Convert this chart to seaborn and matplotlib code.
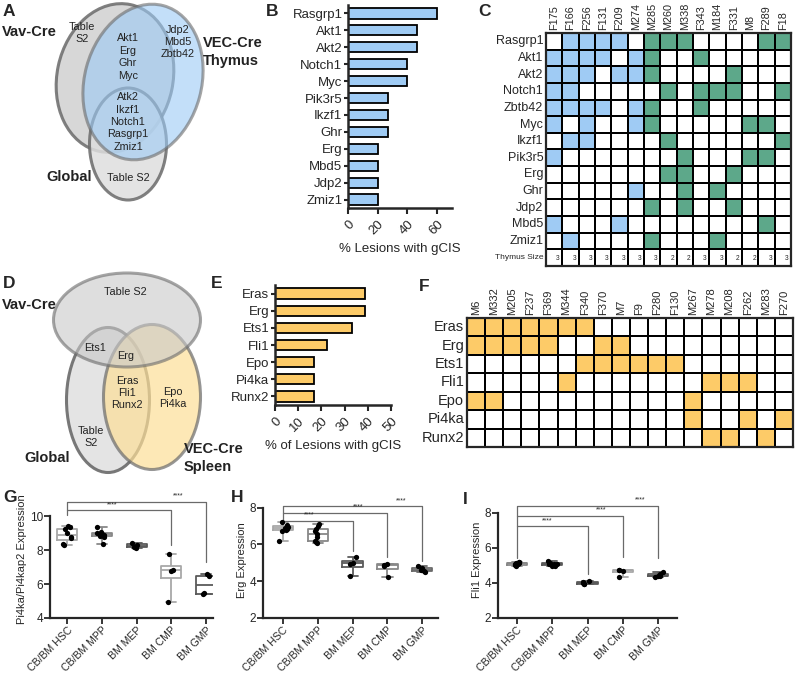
import numpy as np
import pandas as pd
import matplotlib
matplotlib.use("Agg")
import matplotlib.pyplot as plt
import seaborn as sns
from matplotlib.patches import Ellipse
from matplotlib.colors import ListedColormap

sns.set_theme(style="ticks", context="paper")
plt.rcParams['font.family'] = ['Liberation Sans', 'DejaVu Sans']

BLUE = "#9fcbf4"
GREEN = "#5da88a"
YELLOW = "#fdcb68"

# ---- data: thymus (B, C) ----
thymus_bar_genes = ["Rasgrp1", "Akt1", "Akt2", "Notch1", "Myc", "Pik3r5", "Ikzf1",
                    "Ghr", "Erg", "Mbd5", "Jdp2", "Zmiz1"]
thymus_bar_pct = [60, 46.7, 46.7, 40, 40, 26.7, 26.7, 26.7, 20, 20, 20, 20]

thymus_samples = ["F175", "F166", "F256", "F131", "F209", "M274", "M285", "M260",
                  "M338", "F343", "M184", "F331", "M8", "F289", "F18"]
thymus_rows = ["Rasgrp1", "Akt1", "Akt2", "Notch1", "Zbtb42", "Myc", "Ikzf1",
               "Pik3r5", "Erg", "Ghr", "Jdp2", "Mbd5", "Zmiz1"]
thymus_hits = [
    [1, 2, 3, 4, 6, 7, 8, 13, 14],
    [0, 1, 2, 3, 5, 6, 9],
    [0, 1, 2, 4, 5, 6, 11],
    [0, 1, 7, 9, 10, 11, 14],
    [0, 1, 2, 3, 5, 6, 9],
    [0, 2, 5, 6, 12, 13],
    [1, 2, 7, 14],
    [0, 8, 12, 13],
    [7, 8, 11],
    [5, 8, 10],
    [6, 8, 11],
    [0, 4, 13],
    [1, 6, 10],
]
n_blue_samples = 6
thymus_size = [3, 3, 3, 3, 3, 3, 3, 2, 2, 3, 3, 2, 2, 3, 3]

# ---- data: spleen (E, F) ----
spleen_bar_genes = ["Eras", "Erg", "Ets1", "Fli1", "Epo", "Pi4ka", "Runx2"]
spleen_bar_pct = [38.9, 38.9, 33.3, 22.2, 16.7, 16.7, 16.7]

spleen_samples = ["M6", "M332", "M205", "F237", "F369", "M344", "F340", "F370", "M7",
                  "F9", "F280", "F130", "M267", "M278", "M208", "F262", "M283", "F270"]
spleen_rows = ["Eras", "Erg", "Ets1", "Fli1", "Epo", "Pi4ka", "Runx2"]
spleen_hits = [
    [0, 1, 2, 3, 4, 5, 6],
    [0, 1, 2, 3, 4, 7, 8],
    [6, 7, 8, 9, 10, 11],
    [5, 13, 14, 15],
    [0, 1, 12],
    [12, 15, 17],
    [13, 14, 16],
]

# ---- data: expression (G, H, I) ----
cell_types = ["CB/BM HSC", "CB/BM MPP", "BM MEP", "BM CMP", "BM GMP"]
pi4ka_expr = [
    [9.4, 9.35, 9.25, 9.0, 8.8, 8.7, 8.35, 8.3],
    [9.35, 9.1, 9.0, 8.95, 8.9, 8.85, 8.8, 8.35],
    [8.45, 8.3, 8.2, 8.1],
    [7.8, 6.85, 6.8, 4.95],
    [6.6, 6.45, 5.45, 5.4],
]
erg_expr = [
    [7.2, 7.05, 6.95, 6.9, 6.85, 6.8, 6.7, 6.2],
    [7.1, 7.0, 6.85, 6.7, 6.55, 6.4, 6.2, 6.15, 6.1],
    [5.3, 5.0, 4.95, 4.3],
    [4.95, 4.9, 4.85, 4.2],
    [4.8, 4.7, 4.6, 4.55, 4.5],
]
fli1_expr = [
    [5.2, 5.18, 5.15, 5.12, 5.1, 5.05, 5.0, 4.98],
    [5.22, 5.12, 5.1, 5.05, 5.05, 5.0, 4.98, 4.95],
    [4.1, 4.05, 4.0, 3.95, 3.92],
    [4.75, 4.72, 4.7, 4.35],
    [4.6, 4.5, 4.4, 4.38, 4.35],
]
# brackets: (from, to, line y, left end y, right end y, text x)
pi4ka_brackets = [(0, 3, 10.35, 10.1, 8.3, 1.3), (0, 4, 10.85, 10.35, 7.3, 3.2)]
erg_brackets = [(0, 2, 7.27, 7.27, 5.66, 0.75), (0, 3, 7.71, 7.27, 5.3, 2.15), (0, 4, 8.07, 7.71, 5.12, 3.4)]
fli1_brackets = [(0, 2, 7.21, 5.4, 4.5, 0.85), (0, 3, 7.81, 7.21, 5.47, 2.4), (0, 4, 8.37, 7.81, 5.4, 3.5)]

fig = plt.figure(figsize=(8, 6.8), dpi=100)


def px_axes(x0, y0, x1, y1):
    return fig.add_axes([x0 / 800, 1 - y1 / 680, (x1 - x0) / 800, (y1 - y0) / 680])


def letter(x, y, s):
    fig.text(x / 800, 1 - y / 680, s, fontsize=12.5, fontweight="bold", va="top", ha="left")


# ---- Venn diagrams ----
def venn(ax, shapes, texts):
    ax.set_xlim(0, 240)
    ax.set_ylim(210, 0)
    ax.axis("off")
    for cx, cy, w, h, ang, fc, a in shapes:
        ax.add_patch(Ellipse((cx, cy), w, h, angle=ang, facecolor=fc, alpha=a,
                             edgecolor="#6a6a6a", lw=2.2))
    for x, y, s, bold, ha in texts:
        ax.text(x, y, s, ha=ha, va="center", fontsize=10.5 if bold else 7.8,
                fontweight="bold" if bold else "normal", linespacing=1.3,
                color="#222222", clip_on=False, zorder=5)


axA = px_axes(0, 0, 240, 210)
venn(axA,
     [(115, 78, 116, 150, 12, "#d0d0d0", 0.85),
      (128, 144, 77, 112, 0, "#dedede", 0.85),
      (143, 82, 117, 158, 15, "#9ccbf6", 0.6)],
     [(82, 33, "Table\nS2", False, "center"),
      (128, 57, "Akt1\nErg\nGhr\nMyc", False, "center"),
      (128, 122, "Atk2\nIkzf1\nNotch1\nRasgrp1\nZmiz1", False, "center"),
      (178, 42, "Jdp2\nMbd5\nZbtb42", False, "center"),
      (128, 178, "Table S2", False, "center"),
      (2, 32, "Vav-Cre", True, "left"),
      (203, 52, "VEC-Cre\nThymus", True, "left"),
      (46, 177, "Global", True, "left")])

axD = px_axes(0, 270, 240, 480)
venn(axD,
     [(108, 130, 83, 145, 0, "#e2e2e2", 0.9),
      (152, 127, 97, 145, 0, "#fddf98", 0.7),
      (127, 50, 147, 94, 0, "#c9c9c9", 0.6)],
     [(125, 22, "Table S2", False, "center"),
      (95, 78, "Ets1", False, "center"),
      (126, 86, "Erg", False, "center"),
      (127, 123, "Eras\nFli1\nRunx2", False, "center"),
      (173, 128, "Epo\nPi4ka", False, "center"),
      (91, 167, "Table\nS2", False, "center"),
      (2, 35, "Vav-Cre", True, "left"),
      (24, 188, "Global", True, "left"),
      (184, 188, "VEC-Cre\nSpleen", True, "left")])


# ---- bar charts ----
def bar_panel(ax, genes, pct, color, xmax, xticks, xlabel, fs):
    sns.barplot(x=pct, y=genes, orient="h", color=color, saturation=1,
                edgecolor="black", linewidth=1.3, width=0.6, ax=ax)
    ax.set_xlim(0, xmax)
    ax.set_xticks(xticks)
    ax.set_xticklabels([str(t) for t in xticks], rotation=45, ha="right",
                       rotation_mode="anchor", fontsize=fs)
    ax.tick_params(axis="y", labelsize=fs, length=3, width=1.5, pad=1)
    ax.tick_params(axis="x", length=4, width=1.5)
    ax.set_xlabel(xlabel, fontsize=fs)
    ax.set_ylabel("")
    sns.despine(ax=ax)
    for sp in ["left", "bottom"]:
        ax.spines[sp].set_linewidth(1.8)


axB = px_axes(348, 5, 452, 208)
bar_panel(axB, thymus_bar_genes, thymus_bar_pct, BLUE, 70, [0, 20, 40, 60],
          "% Lesions with gCIS", 9.5)

axE = px_axes(275, 285, 391, 405)
bar_panel(axE, spleen_bar_genes, spleen_bar_pct, YELLOW, 50, [0, 10, 20, 30, 40, 50],
          "% of Lesions with gCIS", 9.5)


# ---- lesion grids ----
def grid_panel(ax, rows, samples, hits, code_fn, colors, row_fs, col_fs, extra_row=None):
    mat = np.zeros((len(rows), len(samples)))
    for i, cols in enumerate(hits):
        for j in cols:
            mat[i, j] = code_fn(j)
    labels = list(rows)
    if extra_row is not None:
        mat = np.vstack([mat, np.zeros(len(samples))])
        labels.append(extra_row[0])
    sns.heatmap(mat, cmap=ListedColormap(colors), vmin=0, vmax=len(colors) - 1,
                cbar=False, linewidths=1.2, linecolor="black",
                xticklabels=samples, yticklabels=labels, ax=ax)
    ax.xaxis.tick_top()
    ax.tick_params(length=0, pad=2)
    ax.set_xticklabels(samples, rotation=90, fontsize=col_fs)
    ax.set_yticklabels(labels, rotation=0, fontsize=row_fs, ha="right")
    for sp in ax.spines.values():
        sp.set_visible(True)
        sp.set_linewidth(1.6)
    if extra_row is not None:
        ax.get_yticklabels()[-1].set_fontsize(6)
        for j, s in enumerate(extra_row[1]):
            ax.text(j + 0.85, len(rows) + 0.55, str(s), ha="right", va="center", fontsize=4.8)


axC = px_axes(546, 33, 791, 266)
grid_panel(axC, thymus_rows, thymus_samples, thymus_hits,
           lambda j: 1 if j < n_blue_samples else 2, ["white", BLUE, GREEN],
           9, 7.8, extra_row=("Thymus Size", thymus_size))

axF = px_axes(467, 318, 793, 447)
grid_panel(axF, spleen_rows, spleen_samples, spleen_hits,
           lambda j: 1, ["white", YELLOW], 10.5, 8)


# ---- expression box plots ----
np.random.seed(3)


def expr_panel(ax, vals, colors, ylo, yhi, ytop, yticks, xlim, ylabel, brackets):
    df = pd.DataFrame({"cell": np.repeat(cell_types, [len(v) for v in vals]),
                       "expr": np.concatenate(vals)})
    sns.boxplot(data=df, x="cell", y="expr", hue="cell", order=cell_types,
                hue_order=cell_types, palette=colors, fill=False, whis=(0, 100),
                width=0.58, linewidth=1.3, legend=False, ax=ax)
    sns.stripplot(data=df, x="cell", y="expr", order=cell_types, color="black",
                  size=3.8, jitter=0.15, ax=ax)
    for i, j, yl, ya, yb, tx in brackets:
        ax.plot([i, i, j, j], [ya, yl, yl, yb], color="#6a6a6a", lw=0.9)
        ax.text(tx, yl + 0.02 * (ytop - ylo), "****", ha="center", va="bottom", fontsize=5)
    ax.set_ylim(ylo, ytop)
    ax.set_xlim(*xlim)
    ax.set_yticks(yticks)
    ax.spines["left"].set_bounds(ylo, yhi)
    sns.despine(ax=ax)
    for sp in ["left", "bottom"]:
        ax.spines[sp].set_linewidth(1.6)
    ax.tick_params(length=4, width=1.3, labelsize=8.5, pad=1)
    ax.set_xticks(range(len(cell_types)))
    ax.set_xticklabels(cell_types, rotation=45, ha="right", rotation_mode="anchor", fontsize=7.6)
    ax.set_xlabel("")
    ax.set_ylabel(ylabel, fontsize=8, labelpad=2)


axG = px_axes(50, 501, 213, 618)
expr_panel(axG, pi4ka_expr, ["#a8a8a8", "#888888", "#5a5a5a", "#a8a8a8", "#5a5a5a"],
           4, 10, 10.9, [4, 6, 8, 10], (-0.5, 4.2), "Pi4ka/Pi4kap2 Expression", pi4ka_brackets)

axH = px_axes(263, 502, 438, 618)
expr_panel(axH, erg_expr, ["#a8a8a8", "#888888", "#5a5a5a", "#888888", "#6a6a6a"],
           2, 8, 8.3, [2, 4, 6, 8], (-0.57, 4.45), "Erg Expression", erg_brackets)

axI = px_axes(498, 502, 677, 618)
expr_panel(axI, fli1_expr, ["#888888", "#5a5a5a", "#5a5a5a", "#a8a8a8", "#5a5a5a"],
           2, 8, 8.6, [2, 4, 6, 8], (-0.54, 4.54), "Fli1 Expression", fli1_brackets)

for x, y, s in [(3, 4, "A"), (266, 4, "B"), (478, 4, "C"), (3, 276, "D"), (211, 276, "E"),
                (419, 279, "F"), (3, 490, "G"), (231, 490, "H"), (463, 492, "I")]:
    letter(x, y, s)

fig.savefig("out.png", dpi=100)
